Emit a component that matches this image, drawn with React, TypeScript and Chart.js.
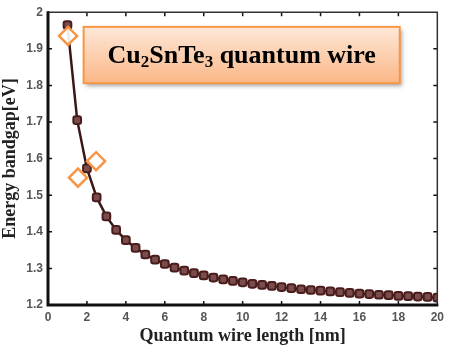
import React, { useEffect, useRef } from "react";
import { Chart, registerables } from "chart.js";

Chart.register(...registerables);

const lengths = [1, 1.5, 2, 2.5, 3, 3.5, 4, 4.5, 5, 5.5, 6, 6.5, 7, 7.5, 8, 8.5, 9, 9.5, 10, 10.5, 11, 11.5, 12, 12.5, 13, 13.5, 14, 14.5, 15, 15.5, 16, 16.5, 17, 17.5, 18, 18.5, 19, 19.5, 20];
const bandgap = [1.965, 1.705, 1.573, 1.494, 1.442, 1.405, 1.377, 1.356, 1.338, 1.324, 1.312, 1.302, 1.294, 1.287, 1.281, 1.275, 1.27, 1.266, 1.262, 1.258, 1.255, 1.252, 1.249, 1.246, 1.243, 1.241, 1.239, 1.237, 1.235, 1.233, 1.231, 1.23, 1.228, 1.227, 1.225, 1.224, 1.223, 1.222, 1.22];
const refLengths = [1.03, 1.54, 2.47];
const refBandgap = [1.935, 1.548, 1.593];
const xTicks = [0, 2, 4, 6, 8, 10, 12, 14, 16, 18, 20];
const yTicks = [1.2, 1.3, 1.4, 1.5, 1.6, 1.7, 1.8, 1.9, 2];

const frame = {
  id: "frame",
  afterDraw(chart: any) {
    const { ctx, chartArea: a, scales } = chart;
    const x = scales.x, y = scales.y;
    ctx.save();
    ctx.strokeStyle = "#111";
    ctx.lineWidth = 1.5;
    ctx.beginPath();
    xTicks.slice(1, -1).forEach((t) => {
      const px = x.getPixelForValue(t);
      ctx.moveTo(px, a.bottom); ctx.lineTo(px, a.bottom - 4);
      ctx.moveTo(px, a.top); ctx.lineTo(px, a.top + 4);
    });
    yTicks.slice(1, -1).forEach((t) => {
      const py = y.getPixelForValue(t);
      ctx.moveTo(a.left, py); ctx.lineTo(a.left + 4, py);
      ctx.moveTo(a.right, py); ctx.lineTo(a.right - 4, py);
    });
    ctx.stroke();
    ctx.strokeStyle = "#333";
    ctx.lineWidth = 1.5;
    ctx.beginPath();
    ctx.moveTo(a.left, a.top); ctx.lineTo(a.right, a.top); ctx.lineTo(a.right, a.bottom);
    ctx.stroke();
    ctx.strokeStyle = "#111";
    ctx.lineWidth = 3;
    ctx.beginPath();
    ctx.moveTo(a.left, a.top - 1); ctx.lineTo(a.left, a.bottom); ctx.lineTo(a.right + 1, a.bottom);
    ctx.stroke();

    const bx = x.getPixelForValue(1.83), bx2 = x.getPixelForValue(18.07);
    const by = y.getPixelForValue(1.96), by2 = y.getPixelForValue(1.806);
    ctx.save();
    ctx.shadowColor = "rgba(0,0,0,0.35)";
    ctx.shadowBlur = 4;
    ctx.shadowOffsetX = 2;
    ctx.shadowOffsetY = 3;
    const g = ctx.createLinearGradient(0, by, 0, by2);
    g.addColorStop(0, "#fde8d8");
    g.addColorStop(1, "#fbb787");
    ctx.fillStyle = g;
    ctx.fillRect(bx, by, bx2 - bx, by2 - by);
    ctx.restore();
    ctx.strokeStyle = "#f79646";
    ctx.lineWidth = 2;
    ctx.strokeRect(bx, by, bx2 - bx, by2 - by);

    const parts: [string, boolean][] = [["Cu", false], ["2", true], ["SnTe", false], ["3", true], [" quantum wire", false]];
    const big = "bold 26px 'Liberation Serif'";
    const small = "bold 17px 'Liberation Serif'";
    let total = 0;
    parts.forEach(([t, sub]) => { ctx.font = sub ? small : big; total += ctx.measureText(t).width; });
    let cx = (bx + bx2) / 2 - total / 2;
    const base = (by + by2) / 2 + 8;
    ctx.fillStyle = "#000";
    ctx.textAlign = "left";
    ctx.textBaseline = "alphabetic";
    parts.forEach(([t, sub]) => {
      ctx.font = sub ? small : big;
      ctx.fillText(t, cx, sub ? base + 4 : base);
      cx += ctx.measureText(t).width;
    });
    ctx.restore();
  },
};

export default function App() {
  const ref = useRef<HTMLCanvasElement>(null);
  useEffect(() => {
    const chart = new Chart(ref.current!, {
      type: "scatter",
      data: {
        datasets: [
          {
            data: refLengths.map((v, i) => ({ x: v, y: refBandgap[i] })),
            showLine: false,
            pointStyle: "rectRot",
            pointRadius: 9,
            pointBorderWidth: 2.5,
            pointBorderColor: "#f79646",
            pointBackgroundColor: "rgba(255,255,255,0.9)",
            order: 0,
          },
          {
            data: lengths.map((v, i) => ({ x: v, y: bandgap[i] })),
            showLine: true,
            borderColor: "#3d1717",
            borderWidth: 2.5,
            pointStyle: "rectRounded",
            pointRadius: 4.5,
            pointBorderWidth: 2,
            pointBorderColor: "#4a1c1c",
            pointBackgroundColor: "#7a4c4c",
            order: 1,
          },
        ],
      },
      options: {
        animation: false,
        responsive: false,
        layout: { padding: { top: 12, right: 7, left: 0, bottom: 0 } },
        plugins: { legend: { display: false }, tooltip: { enabled: false } },
        scales: {
          x: {
            type: "linear",
            min: 0,
            max: 20,
            afterBuildTicks: (s: any) => { s.ticks = xTicks.map((v) => ({ value: v })); },
            afterFit: (s: any) => { s.height = 42; },
            grid: { display: false, drawTicks: false },
            border: { display: false },
            ticks: { color: "#555", font: { family: "'Liberation Sans'", weight: "bold", size: 12 }, padding: 5, maxRotation: 0 },
            title: { display: true, text: "Quantum wire length [nm]", color: "#222", font: { family: "'Liberation Serif'", weight: "bold", size: 18 }, padding: { top: 0, bottom: 0 } },
          },
          y: {
            type: "linear",
            min: 1.2,
            max: 2,
            afterBuildTicks: (s: any) => { s.ticks = yTicks.map((v) => ({ value: v })); },
            afterFit: (s: any) => { s.width = 48; },
            grid: { display: false, drawTicks: false },
            border: { display: false },
            ticks: { color: "#555", font: { family: "'Liberation Sans'", weight: "bold", size: 12 }, padding: 5, callback: (v: any) => String(Math.round(Number(v) * 10) / 10) },
            title: { display: true, text: "Energy bandgap[eV]", color: "#222", font: { family: "'Liberation Serif'", weight: "bold", size: 18 }, padding: { top: 0, bottom: 0 } },
          },
        },
      },
      plugins: [frame],
    } as any);
    return () => chart.destroy();
  }, []);
  return (
    <div style={{ position: "fixed", left: 0, top: 0, width: 449, height: 347, background: "#fff" }}>
      <canvas ref={ref} width={449} height={347} style={{ display: "block" }} />
    </div>
  );
}
